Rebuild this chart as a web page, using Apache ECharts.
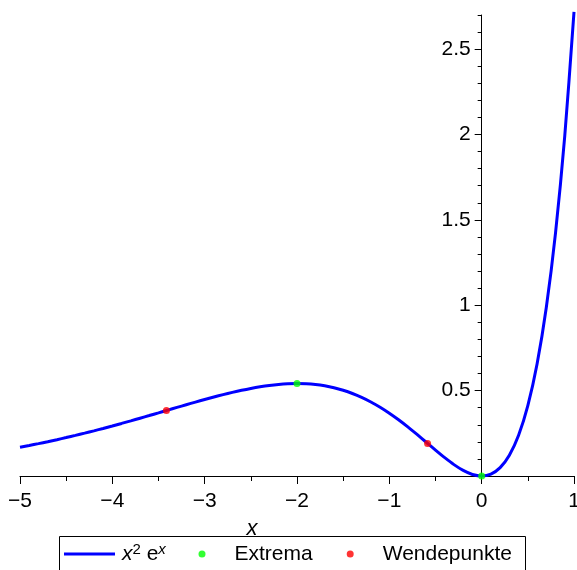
<!DOCTYPE html>
<html>
<head>
<meta charset="utf-8">
<script src="https://cdn.jsdelivr.net/npm/echarts@6/dist/echarts.min.js"></script>
<style>
  html, body { margin: 0; padding: 0; background: #fff; }
  #chart { width: 577px; height: 570px; }
</style>
</head>
<body>
<div id="chart"></div>
<script>
// Sampled values of x^2·e^x on [-5, 1]
const curveX = [
  -5.0, -4.9, -4.8, -4.7, -4.6, -4.5, -4.4, -4.3, -4.2, -4.1,
  -4.0, -3.9, -3.8, -3.7, -3.6, -3.5, -3.4, -3.3, -3.2, -3.1,
  -3.0, -2.9, -2.8, -2.7, -2.6, -2.5, -2.4, -2.3, -2.2, -2.1,
  -2.0, -1.9, -1.8, -1.7, -1.6, -1.5, -1.4, -1.3, -1.2, -1.1,
  -1.0, -0.9, -0.8, -0.7, -0.6, -0.5, -0.4, -0.3, -0.2, -0.1,
  0.0, 0.1, 0.2, 0.3, 0.4, 0.5, 0.6, 0.7, 0.8, 0.9, 1.0
];
const curveY = [
  0.1684, 0.1788, 0.1896, 0.2009, 0.2127, 0.2250, 0.2377, 0.2509, 0.2645, 0.2786,
  0.2931, 0.3079, 0.3230, 0.3385, 0.3541, 0.3699, 0.3858, 0.4017, 0.4174, 0.4329,
  0.4481, 0.4627, 0.4767, 0.4899, 0.5021, 0.5130, 0.5225, 0.5304, 0.5363, 0.5400,
  0.5413, 0.5399, 0.5356, 0.5280, 0.5169, 0.5020, 0.4833, 0.4606, 0.4337, 0.4028,
  0.3679, 0.3293, 0.2876, 0.2433, 0.1976, 0.1516, 0.1073, 0.0667, 0.0327, 0.0090,
  0.0000, 0.0111, 0.0489, 0.1215, 0.2387, 0.4122, 0.6560, 0.9867, 1.4243, 1.9923, 2.7183
];

// Extrema (maximum at x = -2, minimum at x = 0)
const extremaX = [-2.0, 0.0];
const extremaY = [0.5413, 0.0];

// Inflection points at x = -2 ± √2
const wendeX = [-3.4142, -0.5858];
const wendeY = [0.3838, 0.1910];

// Axis ticks
const xTicks = [-5, -4, -3, -2, -1, 0, 1];
const yMajorTicks = [0, 0.5, 1, 1.5, 2, 2.5];
const yMinorTicks = [0.1, 0.2, 0.3, 0.4, 0.6, 0.7, 0.8, 0.9, 1.1, 1.2, 1.3, 1.4,
  1.6, 1.7, 1.8, 1.9, 2.1, 2.2, 2.3, 2.4, 2.6, 2.7];
const yLabels = [0.5, 1, 1.5, 2, 2.5];

const seriesNames = ['x2ex', 'Extrema', 'Wendepunkte'];

const FONT = '"Liberation Sans", Arial, sans-serif';
const fmtNum = v => (v < 0 ? '\u2212' + String(-v) : String(v));

// Plot area and x range; the vertical axis crosses at x = 0
const GRID = { left: 20, right: 3, top: 15, bottom: 94 };
const X_MIN = -5, X_MAX = 1;
const PLOT_W = 577 - GRID.left - GRID.right;
const zeroFromLeft = PLOT_W * (0 - X_MIN) / (X_MAX - X_MIN);
const zeroFromRight = PLOT_W - zeroFromLeft;

const chart = echarts.init(document.getElementById('chart'), null, { renderer: 'canvas' });

const yCommon = {
  type: 'value',
  min: 0,
  max: 2.7,
  splitLine: { show: false }
};

// One legend entry per component so each sits at its own horizontal slot
const legendSlots = [64, 198.5, 346.7];
const legendText = {
  fontFamily: FONT, fontSize: 21, color: '#000', lineHeight: 24,
  padding: [0, 0, 0, 2]
};
const legends = seriesNames.map((name, i) => ({
  data: i === 0 ? [{ name: name, icon: 'path://M0 0H51V3H0Z' }] : [{ name: name, icon: 'circle' }],
  left: legendSlots[i],
  top: 542,
  padding: 0,
  itemWidth: 51,
  itemHeight: 7,
  selectedMode: false,
  textStyle: i === 0 ? Object.assign({}, legendText, {
    rich: {
      i: { fontFamily: FONT, fontSize: 21, fontStyle: 'italic', color: '#000', lineHeight: 24 },
      s: { fontFamily: FONT, fontSize: 15, color: '#000', verticalAlign: 'top', lineHeight: 14 },
      n: { fontFamily: FONT, fontSize: 21, color: '#000', lineHeight: 24 },
      si: { fontFamily: FONT, fontSize: 15, fontStyle: 'italic', color: '#000', verticalAlign: 'top', lineHeight: 14 }
    }
  }) : legendText,
  formatter: i === 0 ? () => '{i|x}{s|2}{n| e}{si|x}' : undefined
}));

chart.setOption({
  animation: false,
  backgroundColor: '#fff',
  textStyle: { fontFamily: FONT },
  grid: Object.assign({ containLabel: false, outerBoundsMode: 'none' }, GRID),
  graphic: [{
    type: 'rect',
    left: 59,
    top: 536,
    shape: { width: 466, height: 40 },
    style: { fill: '#fff', stroke: '#000', lineWidth: 1 },
    z: -1
  }],
  xAxis: {
    type: 'value',
    min: X_MIN,
    max: X_MAX,
    interval: 1,
    name: 'x',
    nameLocation: 'middle',
    nameGap: 42,
    nameTextStyle: {
      fontFamily: FONT, fontSize: 22, fontStyle: 'italic', color: '#000',
      padding: [0, 90, 0, 0]
    },
    axisLine: { show: true, onZero: false, lineStyle: { color: '#000', width: 1 } },
    axisTick: { show: true, length: 8, lineStyle: { color: '#000' } },
    minorTick: { show: true, splitNumber: 2, length: 5, lineStyle: { color: '#000' } },
    splitLine: { show: false },
    axisLabel: {
      fontFamily: FONT, fontSize: 21, color: '#000', margin: 15,
      customValues: xTicks,
      formatter: v => fmtNum(v)
    }
  },
  yAxis: [
    Object.assign({}, yCommon, {
      position: 'left',
      offset: -zeroFromLeft,
      axisLine: { show: true, onZero: false, lineStyle: { color: '#000', width: 1 } },
      axisTick: { show: true, length: 7, lineStyle: { color: '#000' }, customValues: yMajorTicks },
      axisLabel: {
        fontFamily: FONT, fontSize: 21, color: '#000', margin: 11,
        customValues: yLabels,
        formatter: v => fmtNum(v)
      }
    }),
    Object.assign({}, yCommon, {
      position: 'right',
      offset: -zeroFromRight,
      axisLine: { show: false, onZero: false },
      axisTick: { show: true, inside: true, length: 4, lineStyle: { color: '#000' }, customValues: yMinorTicks },
      axisLabel: { show: false }
    })
  ],
  legend: legends,
  series: [
    {
      name: 'x2ex',
      type: 'line',
      data: curveX.map((x, i) => [x, curveY[i]]),
      smooth: 0.3,
      symbol: 'none',
      clip: false,
      lineStyle: { color: '#0000ff', width: 3 },
      itemStyle: { color: '#0000ff' },
      z: 3
    },
    {
      name: 'Extrema',
      type: 'scatter',
      data: extremaX.map((x, i) => [x, extremaY[i]]),
      symbol: 'circle',
      symbolSize: 7,
      clip: false,
      itemStyle: { color: '#00ff00' },
      z: 4
    },
    {
      name: 'Wendepunkte',
      type: 'scatter',
      data: wendeX.map((x, i) => [x, wendeY[i]]),
      symbol: 'circle',
      symbolSize: 7,
      clip: false,
      itemStyle: { color: '#ff0000' },
      z: 4
    }
  ]
});
</script>
</body>
</html>
